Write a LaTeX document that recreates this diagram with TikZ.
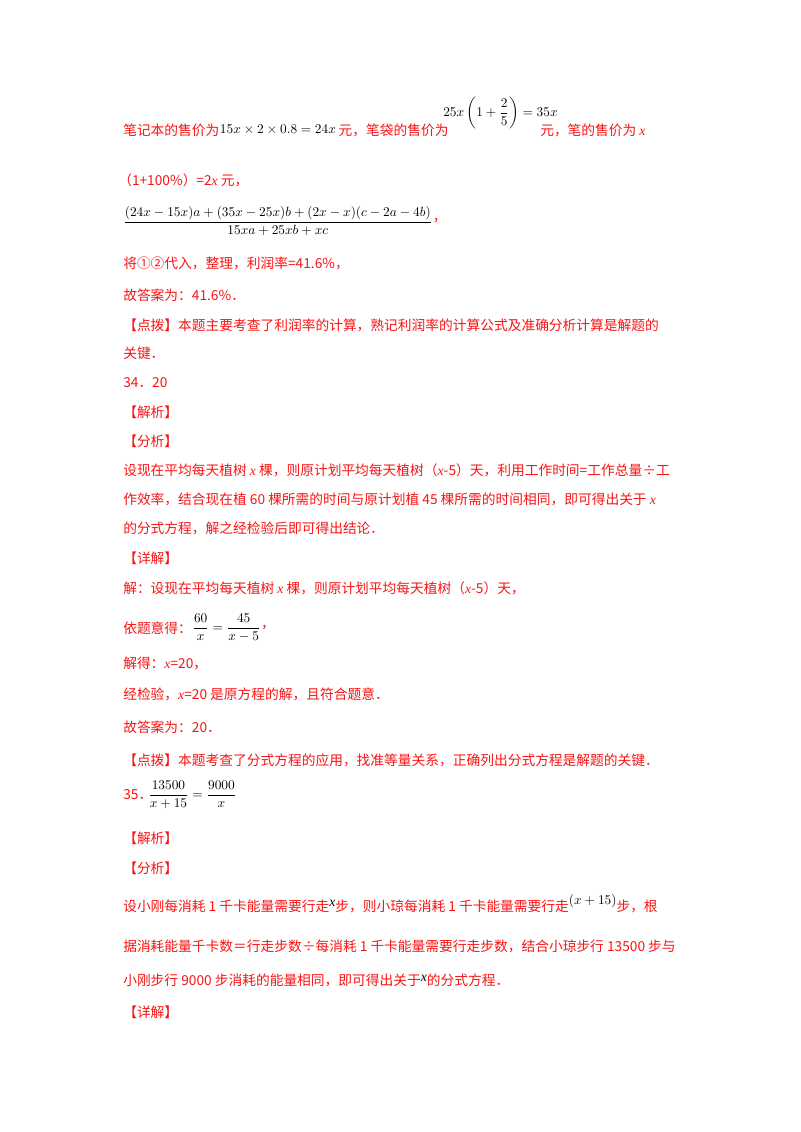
\documentclass[tikz,border=0pt]{standalone}
\usepackage{amsmath}
\usepackage{fontspec}
\setmainfont{Liberation Serif}
\newfontfamily\cjk{Noto Sans CJK SC}
\definecolor{rd}{RGB}{250,20,20}
\newcommand{\vx}{{\rmfamily\itshape x}}
\begin{document}
\begin{tikzpicture}[x=0.75pt,y=-0.75pt,
  t/.style={anchor=west,inner sep=0pt,text=rd,font=\cjk\fontsize{10.3}{12}\selectfont},
  mth/.style={anchor=west,inner sep=0pt,text=black,font=\fontsize{9.6}{12}\selectfont}]
\useasboundingbox[fill=white] (0,0) rectangle (800,1132);
\node[t] (l1a) at (123,130) {笔记本的售价为};
\node[mth] (l1b) at (l1a.east) {$15x\times2\times0.8=24x$};
\node[t] (l1c) at (l1b.east) {\,元，笔袋的售价为};
\node[mth] (l1d) at (443,113) {$25x\left(1+\dfrac{2}{5}\right)=35x$};
\node[t] (l1e) at (540,130) {元，笔的售价为 \vx};
\node[t] (l2) at (118,180) {（1+100\%）=2\vx\ 元，};
\node[mth] (l3) at (123,221) {$\dfrac{(24x-15x)a+(35x-25x)b+(2x-x)(c-2a-4b)}{15xa+25xb+xc}$};
\node[t] (l3b) at (l3.east) {，};
\node[t] (l4) at (123,263) {将①②代入，整理，利润率=41.6\%，};
\node[t] (l5) at (123,295) {故答案为：41.6\%．};
\node[t] (l6) at (123,325) {【点拨】本题主要考查了利润率的计算，熟记利润率的计算公式及准确分析计算是解题的};
\node[t] (l7) at (123,353) {关键．};
\node[t] (l8) at (123,383) {34．20};
\node[t] (l9) at (123,412) {【解析】};
\node[t] (l10) at (123,441) {【分析】};
\node[t] (l11) at (123,470) {设现在平均每天植树 \vx\ 棵，则原计划平均每天植树（\vx-5）天，利用工作时间=工作总量÷工};
\node[t] (l12) at (123,499) {作效率，结合现在植 60 棵所需的时间与原计划植 45 棵所需的时间相同，即可得出关于 \vx};
\node[t] (l13) at (123,528) {的分式方程，解之经检验后即可得出结论．};
\node[t] (l14) at (123,558) {【详解】};
\node[t] (l15) at (123,588) {解：设现在平均每天植树 \vx\ 棵，则原计划平均每天植树（\vx-5）天，};
\node[t] (l16) at (123,628) {依题意得：};
\node[mth] (l16b) at (l16.east) {$\dfrac{60}{x}=\dfrac{45}{x-5}$};
\node[t] (l16c) at (l16b.east) {，};
\node[t] (l17) at (123,663) {解得：\vx=20，};
\node[t] (l18) at (123,694) {经检验，\vx=20 是原方程的解，且符合题意．};
\node[t] (l19) at (123,727) {故答案为：20．};
\node[t] (l20) at (123,760) {【点拨】本题考查了分式方程的应用，找准等量关系，正确列出分式方程是解题的关键．};
\node[t] (l21) at (123,795) {35．};
\node[mth] (l21b) at (148,795) {$\dfrac{13500}{x+15}=\dfrac{9000}{x}$};
\node[t] (l22) at (123,838) {【解析】};
\node[t] (l23) at (123,868) {【分析】};
\node[t] (l24) at (123,904) {设小刚每消耗 1 千卡能量需要行走\raisebox{4pt}{\textcolor{black}{\vx}}步，则小琼每消耗 1 千卡能量需要行走\raisebox{5pt}{\textcolor{black}{\rmfamily$(x+15)$}}步，根};
\node[t] (l25) at (123,946) {据消耗能量千卡数＝行走步数÷每消耗 1 千卡能量需要行走步数，结合小琼步行 13500 步与};
\node[t] (l26) at (123,980) {小刚步行 9000 步消耗的能量相同，即可得出关于\raisebox{3pt}{\textcolor{black}{\vx}}的分式方程．};
\node[t] (l27) at (123,1012) {【详解】};
\end{tikzpicture}
\end{document}
